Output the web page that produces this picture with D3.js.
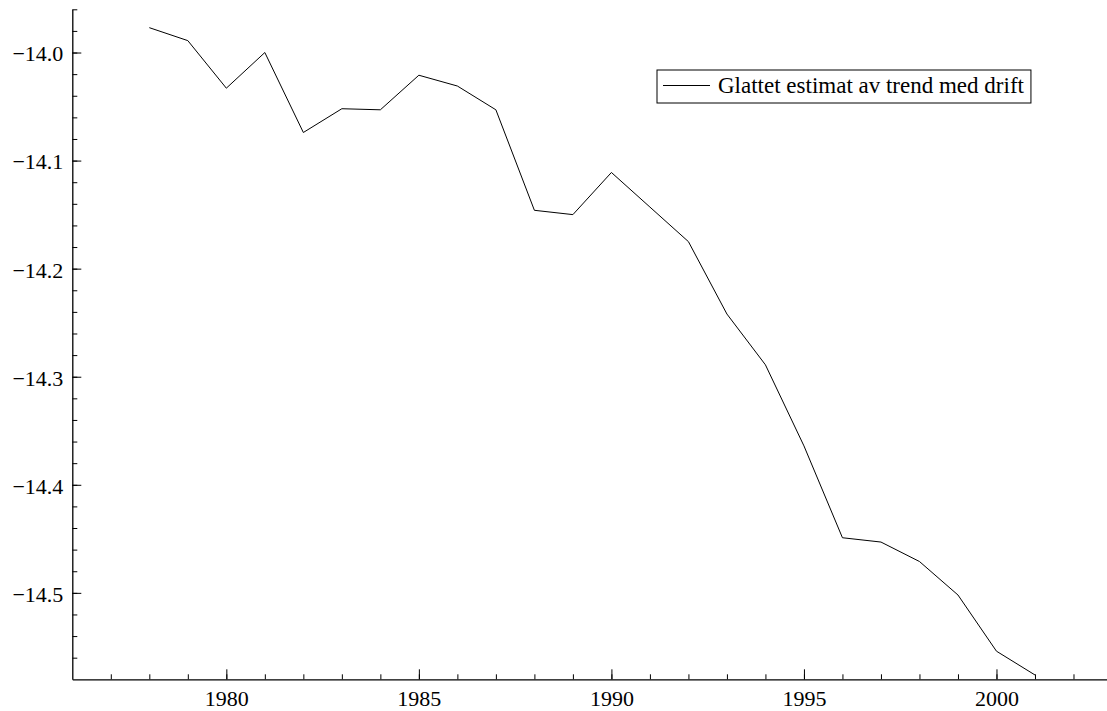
<!DOCTYPE html>
<html>
<head>
<meta charset="utf-8">
<script src="https://cdn.jsdelivr.net/npm/d3@7"></script>
<style>
  html, body { margin: 0; padding: 0; background: #fff; }
  svg { display: block; }
  svg text { font-family: "Liberation Serif", Times, "Times New Roman", serif; fill: #000; }
</style>
</head>
<body>
<svg id="chart" width="1107" height="711"></svg>
<script>
// Smoothed trend estimate with drift, yearly values
const years = [1978, 1979, 1980, 1981, 1982, 1983, 1984, 1985, 1986, 1987, 1988, 1989,
               1990, 1991, 1992, 1993, 1994, 1995, 1996, 1997, 1998, 1999, 2000, 2001];
const trend = [-13.977, -13.989, -14.033, -14.000, -14.074, -14.052, -14.053, -14.021,
               -14.031, -14.053, -14.146, -14.150, -14.111, -14.143, -14.175, -14.242,
               -14.289, -14.364, -14.449, -14.453, -14.471, -14.502, -14.554, -14.576];
const seriesName = "Glattet estimat av trend med drift";
const xTickValues = [1980, 1985, 1990, 1995, 2000];
const yTickValues = [-14.5, -14.4, -14.3, -14.2, -14.1, -14.0];

const serif = '"Liberation Serif", Times, "Times New Roman", serif';
const svg = d3.select("#chart");
const plotLeft = 72.3, plotRight = 1107, plotTop = 9.3, plotBottom = 679.3;
const fontSize = 22;

const x = d3.scaleLinear().domain([1976, 2002.87]).range([plotLeft, plotRight]);
const y = d3.scaleLinear().domain([-14.58, -13.96]).range([plotBottom, plotTop]);

// minor ticks (every year / every 0.02)
svg.append("g")
  .attr("transform", `translate(0,${plotBottom})`)
  .call(d3.axisBottom(x).tickValues(d3.range(1977, 2003)).tickSizeInner(-5).tickSizeOuter(0).tickFormat(""))
  .call(g => g.select(".domain").remove())
  .call(g => g.selectAll("line").attr("stroke", "#000"));
svg.append("g")
  .attr("transform", `translate(${plotLeft},0)`)
  .call(d3.axisLeft(y).tickValues(d3.range(-14.56, -13.95, 0.02)).tickSizeInner(-5).tickSizeOuter(0).tickFormat(""))
  .call(g => g.select(".domain").remove())
  .call(g => g.selectAll("line").attr("stroke", "#000"));

// major ticks with labels
const xAxis = svg.append("g")
  .attr("transform", `translate(0,${plotBottom})`)
  .call(d3.axisBottom(x).tickValues(xTickValues).tickSizeInner(-10).tickSizeOuter(0)
        .tickPadding(10).tickFormat(d3.format("d")));
const yAxis = svg.append("g")
  .attr("transform", `translate(${plotLeft},0)`)
  .call(d3.axisLeft(y).tickValues(yTickValues).tickSizeInner(-9).tickSizeOuter(0)
        .tickPadding(9).tickFormat(d3.format(".1f")));

[xAxis, yAxis].forEach(g => {
  g.attr("font-family", serif).attr("font-size", fontSize);
  g.select(".domain").attr("stroke", "#000").attr("stroke-width", 1.3);
  g.selectAll(".tick line").attr("stroke", "#000");
  g.selectAll("text").style("font-family", serif).style("font-size", fontSize + "px").attr("fill", "#000");
});
yAxis.selectAll("text").attr("dy", "0.38em");
xAxis.selectAll("text").attr("dy", "0.75em");

// series line
const line = d3.line().x((d, i) => x(years[i])).y(d => y(d));
svg.append("path")
  .datum(trend)
  .attr("fill", "none")
  .attr("stroke", "#000")
  .attr("stroke-width", 1)
  .attr("stroke-linejoin", "miter")
  .attr("d", line);

// legend
const legend = svg.append("g").attr("transform", "translate(657,70)");
const legendBox = legend.append("rect")
  .attr("x", 0).attr("y", 0).attr("height", 33)
  .attr("fill", "#fff").attr("stroke", "#000").attr("stroke-width", 1);
legend.append("line")
  .attr("x1", 6).attr("x2", 53).attr("y1", 15.5).attr("y2", 15.5)
  .attr("stroke", "#000").attr("stroke-width", 1);
const legendText = legend.append("text")
  .attr("x", 61).attr("y", 23)
  .style("font-family", serif)
  .style("font-size", "23px")
  .text(seriesName);
legendBox.attr("width", 61 + legendText.node().getComputedTextLength() + 7);
</script>
</body>
</html>
